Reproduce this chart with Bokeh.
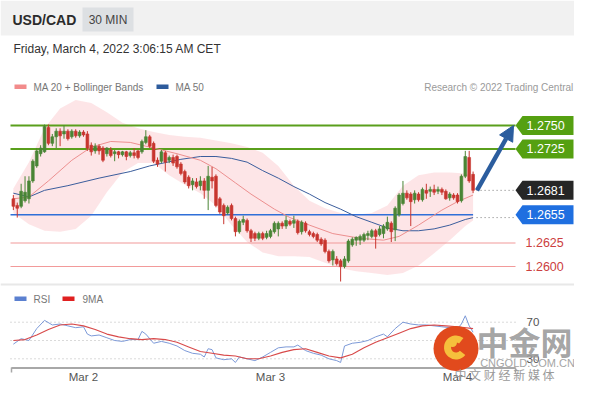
import numpy as np
import pandas as pd
from bokeh.plotting import figure
from bokeh.models import Range1d, Arrow, NormalHead
from bokeh.core.properties import value
from bokeh.embed import file_html
from bokeh.resources import INLINE

# ---------------- data ----------------
first_bar = "2022-03-01 15:00"
day_zero = "2022-03-02 00:00"

opens = [1.2672, 1.2665, 1.2664, 1.2670, 1.2672, 1.2691, 1.2707, 1.2720, 1.2722, 1.2748,
         1.2731, 1.2738, 1.2744, 1.2741, 1.2744, 1.2738, 1.2744, 1.2739, 1.2743, 1.2741,
         1.2729, 1.2723, 1.2728, 1.2726, 1.2720, 1.2724, 1.2720, 1.2722, 1.2719, 1.2722,
         1.2718, 1.2721, 1.2723, 1.2722, 1.2732, 1.2738, 1.2731, 1.2713, 1.2712, 1.2721,
         1.2713, 1.2716, 1.2717, 1.2709, 1.2701, 1.2695, 1.2687, 1.2690, 1.2686, 1.2691,
         1.2681, 1.2695, 1.2696, 1.2672, 1.2665, 1.2657, 1.2665, 1.2651, 1.2637, 1.2647,
         1.2649, 1.2638, 1.2635, 1.2630, 1.2635, 1.2631, 1.2632, 1.2637, 1.2640, 1.2646,
         1.2643, 1.2648, 1.2646, 1.2648, 1.2637, 1.2646, 1.2637, 1.2635, 1.2634, 1.2629,
         1.2628, 1.2616, 1.2607, 1.2608, 1.2606, 1.2600, 1.2606, 1.2623, 1.2628, 1.2628,
         1.2628, 1.2633, 1.2632, 1.2638, 1.2634, 1.2635, 1.2640, 1.2646, 1.2639, 1.2655,
         1.2667, 1.2678, 1.2677, 1.2671, 1.2677, 1.2671, 1.2681, 1.2680, 1.2682, 1.2680,
         1.2682, 1.2680, 1.2673, 1.2676, 1.2676, 1.2670, 1.2696, 1.2716, 1.2698]
highs = [1.2676, 1.2668, 1.2688, 1.2696, 1.2696, 1.2714, 1.2726, 1.2729, 1.2751, 1.2751,
         1.2741, 1.2747, 1.2747, 1.2750, 1.2746, 1.2746, 1.2746, 1.2745, 1.2745, 1.2744,
         1.2732, 1.2731, 1.2730, 1.2728, 1.2727, 1.2727, 1.2724, 1.2723, 1.2723, 1.2723,
         1.2723, 1.2726, 1.2724, 1.2735, 1.2745, 1.2740, 1.2733, 1.2716, 1.2724, 1.2723,
         1.2718, 1.2719, 1.2719, 1.2711, 1.2703, 1.2697, 1.2694, 1.2694, 1.2696, 1.2694,
         1.2707, 1.2706, 1.2698, 1.2674, 1.2667, 1.2665, 1.2667, 1.2653, 1.2650, 1.2654,
         1.2651, 1.2640, 1.2637, 1.2637, 1.2637, 1.2638, 1.2640, 1.2648, 1.2648, 1.2648,
         1.2654, 1.2650, 1.2654, 1.2650, 1.2649, 1.2648, 1.2639, 1.2637, 1.2636, 1.2631,
         1.2630, 1.2618, 1.2618, 1.2611, 1.2608, 1.2611, 1.2629, 1.2631, 1.2632, 1.2634,
         1.2636, 1.2638, 1.2640, 1.2640, 1.2643, 1.2645, 1.2653, 1.2648, 1.2664, 1.2678,
         1.2691, 1.2681, 1.2679, 1.2681, 1.2679, 1.2684, 1.2688, 1.2685, 1.2687, 1.2685,
         1.2684, 1.2682, 1.2679, 1.2678, 1.2678, 1.2698, 1.2723, 1.2723, 1.2701]
lows = [1.2660, 1.2652, 1.2662, 1.2668, 1.2667, 1.2689, 1.2705, 1.2717, 1.2721, 1.2729,
        1.2728, 1.2726, 1.2728, 1.2736, 1.2734, 1.2736, 1.2737, 1.2737, 1.2738, 1.2723,
        1.2718, 1.2720, 1.2719, 1.2711, 1.2717, 1.2716, 1.2712, 1.2715, 1.2717, 1.2713,
        1.2716, 1.2715, 1.2714, 1.2720, 1.2730, 1.2726, 1.2710, 1.2706, 1.2710, 1.2701,
        1.2710, 1.2707, 1.2704, 1.2697, 1.2688, 1.2683, 1.2681, 1.2683, 1.2681, 1.2672,
        1.2660, 1.2683, 1.2663, 1.2656, 1.2645, 1.2655, 1.2649, 1.2632, 1.2635, 1.2644,
        1.2636, 1.2626, 1.2627, 1.2628, 1.2628, 1.2629, 1.2630, 1.2635, 1.2632, 1.2640,
        1.2640, 1.2643, 1.2641, 1.2634, 1.2634, 1.2636, 1.2632, 1.2630, 1.2626, 1.2622,
        1.2614, 1.2604, 1.2601, 1.2601, 1.2584, 1.2598, 1.2604, 1.2621, 1.2622, 1.2623,
        1.2626, 1.2628, 1.2630, 1.2619, 1.2632, 1.2630, 1.2638, 1.2626, 1.2627, 1.2653,
        1.2665, 1.2671, 1.2643, 1.2667, 1.2669, 1.2669, 1.2672, 1.2674, 1.2676, 1.2677,
        1.2676, 1.2671, 1.2670, 1.2671, 1.2667, 1.2668, 1.2694, 1.2689, 1.2678]
closes = [1.2664, 1.2662, 1.2680, 1.2679, 1.2691, 1.2712, 1.2723, 1.2726, 1.2749, 1.2731,
          1.2738, 1.2744, 1.2739, 1.2744, 1.2736, 1.2744, 1.2739, 1.2743, 1.2740, 1.2726,
          1.2722, 1.2728, 1.2723, 1.2713, 1.2726, 1.2718, 1.2722, 1.2719, 1.2722, 1.2717,
          1.2721, 1.2718, 1.2716, 1.2733, 1.2738, 1.2728, 1.2712, 1.2709, 1.2722, 1.2711,
          1.2716, 1.2710, 1.2706, 1.2699, 1.2690, 1.2686, 1.2691, 1.2685, 1.2691, 1.2681,
          1.2696, 1.2691, 1.2665, 1.2658, 1.2654, 1.2663, 1.2651, 1.2637, 1.2648, 1.2650,
          1.2638, 1.2630, 1.2630, 1.2635, 1.2630, 1.2635, 1.2638, 1.2646, 1.2646, 1.2643,
          1.2649, 1.2645, 1.2649, 1.2636, 1.2647, 1.2638, 1.2634, 1.2632, 1.2628, 1.2624,
          1.2616, 1.2606, 1.2616, 1.2603, 1.2600, 1.2608, 1.2627, 1.2629, 1.2631, 1.2632,
          1.2634, 1.2635, 1.2638, 1.2632, 1.2640, 1.2643, 1.2647, 1.2637, 1.2662, 1.2676,
          1.2678, 1.2673, 1.2669, 1.2678, 1.2671, 1.2682, 1.2678, 1.2682, 1.2679, 1.2682,
          1.2679, 1.2672, 1.2677, 1.2673, 1.2669, 1.2696, 1.2717, 1.2691, 1.2681]

ma20_idx = [0, 4, 9, 15, 20, 25, 30, 35, 42, 48, 52, 57, 61, 67, 71, 76, 82, 89, 95, 99, 104, 110, 114, 118]
ma20 = [1.2672, 1.2674, 1.2691, 1.2713, 1.2727, 1.2733, 1.2732, 1.2727, 1.2720, 1.2713, 1.2704, 1.2689,
        1.2677, 1.2661, 1.2652, 1.2644, 1.2635, 1.2630, 1.2628, 1.2632, 1.2644, 1.2660, 1.2669, 1.2676]

ma50_idx = [0, 4, 8, 14, 22, 30, 35, 43, 48, 52, 56, 60, 64, 68, 72, 76, 80, 84, 88, 92, 96, 100,
            104, 108, 112, 116, 118]
ma50 = [1.2678, 1.2674, 1.2681, 1.2686, 1.2694, 1.2701, 1.2707, 1.2714, 1.2717, 1.2717, 1.2715, 1.2711,
        1.2702, 1.2694, 1.2685, 1.2677, 1.2668, 1.2661, 1.2653, 1.2647, 1.2641, 1.2638, 1.2638, 1.2640,
        1.2644, 1.2650, 1.2652]

bb_idx = [0, 4, 8, 12, 16, 20, 24, 28, 32, 36, 40, 44, 48, 52, 56, 60, 64, 68, 72, 76, 80, 84, 88,
          92, 96, 100, 104, 108, 112, 116, 118]
bb_upper = [1.2683, 1.2711, 1.2747, 1.2768, 1.2777, 1.2774, 1.2764, 1.2753, 1.2747, 1.2743, 1.2740,
            1.2738, 1.2737, 1.2734, 1.2731, 1.2727, 1.2721, 1.2707, 1.2686, 1.2670, 1.2662, 1.2657,
            1.2655, 1.2657, 1.2665, 1.2686, 1.2697, 1.2700, 1.2700, 1.2699, 1.2696]
bb_lower = [1.2657, 1.2645, 1.2638, 1.2637, 1.2640, 1.2654, 1.2679, 1.2700, 1.2710, 1.2710, 1.2697,
            1.2687, 1.2678, 1.2665, 1.2644, 1.2626, 1.2615, 1.2611, 1.2611, 1.2610, 1.2604, 1.2598,
            1.2595, 1.2593, 1.2591, 1.2593, 1.2601, 1.2614, 1.2628, 1.2643, 1.2649]

rsi_idx = [0, 2, 4, 6, 8, 10, 12, 14, 16, 18, 19, 20, 22, 24, 26, 28, 30, 32, 33, 34,
           36, 38, 40, 42, 44, 46, 48, 49, 50, 51, 52, 54, 56, 57, 58, 60, 62, 64, 66, 68,
           70, 72, 73, 75, 77, 79, 81, 83, 84, 85, 87, 89, 91, 93, 95, 96, 98, 100, 102, 104,
           106, 108, 110, 112, 114, 115, 116, 117, 118]
rsi = [46, 52, 50, 63, 72, 67, 68, 66, 64, 65, 57, 55, 56, 53, 50, 49, 51, 51, 60, 57,
       47, 49, 47, 44, 39, 36, 35, 32, 41, 40, 31, 29, 30, 26, 32, 30, 28, 32, 37, 42,
       43, 43, 45, 39, 36, 34, 30, 28, 26, 44, 47, 48, 50, 54, 57, 54, 63, 70, 68, 67,
       67, 66, 65, 64, 63, 68, 77, 66, 59]

ma9_idx = [0, 3, 6, 9, 12, 15, 18, 21, 24, 27, 30, 33, 36, 39, 42, 45, 48, 51, 54, 57,
           60, 63, 66, 69, 72, 75, 78, 81, 84, 87, 90, 93, 96, 99, 102, 105, 108, 111, 114, 118]
ma9 = [50, 51, 56, 62, 67, 68, 66, 62, 57, 54, 52, 51, 52, 51, 48, 43, 38, 36, 34, 33,
       30, 30, 33, 37, 40, 41, 37, 33, 31, 35, 42, 48, 53, 58, 63, 66, 67, 66, 65, 63]

resistances = [1.2750, 1.2725]
pivot = 1.2655
supports = [1.2625, 1.2600]
rsi_levels = [70, 50, 30]
rsi_labels = ["70", "30"]

tick_days = ["2022-03-02", "2022-03-03", "2022-03-04"]
tick_labels = ["Mar 2", "Mar 3", "Mar 4"]

# ---------------- derived positions ----------------
times = pd.date_range(first_bar, periods=len(opens), freq="30min")
half = pd.Timedelta("30min")
t = np.asarray((times - pd.Timestamp(day_zero)) / half, dtype=float)
tick_t = [float((pd.Timestamp(d) - pd.Timestamp(day_zero)) / half) for d in tick_days]

O = np.array(opens); Hh = np.array(highs); L = np.array(lows); C = np.array(closes)
up = C >= O
GREEN, RED = "#4a8535", "#c8352f"
colors = [GREEN if u else RED for u in up]

W, H = 574, 384
X0, X1 = -21.30, 126.03
Y0, Y1 = 1.2474424, 1.2883
ppx = (X1 - X0) / W
ppy = (Y1 - Y0) / H


def tx(px):
    return X0 + px * ppx


FONT = value("Liberation Sans")
PX = dict(x_range_name="px", y_range_name="px")

p = figure(width=W, height=H, output_backend="svg", toolbar_location=None,
           x_range=Range1d(X0, X1), y_range=Range1d(Y0, Y1),
           x_axis_location=None, y_axis_location=None, min_border=0,
           outline_line_color=None, background_fill_color="white", border_fill_color="white")
p.grid.visible = False
p.extra_y_ranges = {"rsi": Range1d(1.91, 421.6), "px": Range1d(H, 0)}
p.extra_x_ranges = {"px": Range1d(0, W)}

# header band
p.quad(left=[0], right=[W], top=[0], bottom=[35], fill_color="#f1f1f1", line_color=None, **PX)
p.quad(left=[82], right=[133], top=[7], bottom=[31], fill_color="#dde0e3", line_color=None, **PX)
# divider
p.segment(x0=[0], x1=[W], y0=[284], y1=[284], line_color="#e8e8e8", line_width=2, **PX)

# Bollinger band
bb_t = t[bb_idx]
p.varea(x=bb_t, y1=bb_lower, y2=bb_upper, fill_color="#f7a9b0", fill_alpha=0.3)

left = tx(10)
lab_x = tx(515)
right = tx(573)
t_end = t[-1]

# level lines
for lv in resistances:
    p.segment(x0=[left], x1=[lab_x], y0=[lv], y1=[lv], line_color="#5a9f1c", line_width=2)
for lv in supports:
    p.segment(x0=[left], x1=[lab_x], y0=[lv], y1=[lv], line_color="#f29a9a", line_width=1.2)
p.segment(x0=[left], x1=[t_end], y0=[pivot], y1=[pivot], line_color="#2f6fd8", line_width=1.5)
p.segment(x0=[t_end + 0.9, t_end + 0.9], x1=[lab_x, lab_x], y0=[closes[-1], ma50[-1]],
          y1=[closes[-1], ma50[-1]], line_color="#777777", line_width=1, line_dash="1 3")

# moving averages
p.line(t[ma50_idx], ma50, line_color="#3b5d9c", line_width=1)
p.line(t[ma20_idx], ma20, line_color="#ec8f8f", line_width=1)

# candles
p.segment(x0=t, x1=t, y0=L, y1=Hh, line_color=colors, line_width=1)
p.vbar(x=t, width=0.72, top=np.maximum(O, C), bottom=np.minimum(O, C),
       fill_color=colors, line_color=colors, line_width=0.6)

# level tags
hh = 9.5 * ppy
tip = 7 * ppx
tag_levels = [resistances[0], resistances[1], closes[-1], pivot]
tag_colors = ["#55a011", "#55a011", "#262626", "#1f6fe0"]
xs = [[lab_x, lab_x + tip, right, right, lab_x + tip] for _ in tag_levels]
ys = [[lv, lv + hh, lv + hh, lv - hh, lv - hh] for lv in tag_levels]
p.patches(xs, ys, fill_color=tag_colors, line_color=None)
p.text(x=[lab_x + 11 * ppx] * 4, y=tag_levels, text=[f"{v:.4f}" for v in tag_levels],
       text_color="white", text_font=FONT, text_font_size="12.5px", text_baseline="middle")
p.text(x=[tx(525)] * 2, y=supports, text=[f"{v:.4f}" for v in supports],
       text_color="#cc4040", text_font=FONT, text_font_size="12.5px", text_baseline="middle")

# target arrow
AB = "#2b5d9e"
p.add_layout(Arrow(end=NormalHead(size=15, fill_color=AB, line_color=AB, line_width=1),
                   x_start=t_end + 1.0, y_start=closes[-1], x_end=tx(513), y_end=resistances[0],
                   line_color=AB, line_width=4.5))

# RSI panel
for lv in rsi_levels:
    p.segment(x0=[left], x1=[lab_x], y0=[lv], y1=[lv], line_color="#b5b5b5", line_width=1,
              line_dash="1 3", y_range_name="rsi")
p.line(t[rsi_idx], rsi, line_color="#7d9ad8", line_width=1, y_range_name="rsi")
p.line(t[ma9_idx], ma9, line_color="#d84a4a", line_width=1.1, y_range_name="rsi")
p.text(x=[tx(526)] * 2, y=[70, 30], text=rsi_labels, text_color="#555555", text_font=FONT,
       text_font_size="11.5px", text_baseline="middle", y_range_name="rsi")

# time axis
p.segment(x0=[11], x1=[515], y0=[367.5], y1=[367.5], line_color="#a8a8a8", line_width=2, **PX)
p.segment(x0=[11, 515], x1=[11, 515], y0=[367, 367], y1=[372, 372], line_color="#a8a8a8",
          line_width=1.5, **PX)
p.text(x=tick_t, y=[376.5] * 3, text=tick_labels, text_color="#555555", text_font=FONT,
       text_font_size="11.5px", text_align="center", text_baseline="middle", y_range_name="px")

# header texts
p.text(x=[12], y=[19.5], text=["USD/CAD"], text_color="#2b2b2b", text_font=FONT,
       text_font_size="14px", text_font_style="bold", text_baseline="middle", **PX)
p.text(x=[107.5], y=[19.5], text=["30 MIN"], text_color="#444444", text_font=FONT,
       text_font_size="12px", text_align="center", text_baseline="middle", **PX)
p.text(x=[13], y=[48.5], text=["Friday, March 4, 2022 3:06:15 AM CET"], text_color="#333333",
       text_font=FONT, text_font_size="12px", text_baseline="middle", **PX)

# legends
p.quad(left=[14, 156, 14, 62], right=[26, 168, 26, 74], top=[84, 84, 296, 296],
       bottom=[88.5, 88.5, 300.5, 300.5],
       fill_color=["#f28b8b", "#2d5b9c", "#5b80d0", "#e02020"], line_color=None, **PX)
p.text(x=[33, 175, 33, 82], y=[86.5, 86.5, 298.5, 298.5],
       text=["MA 20 + Bollinger Bands", "MA 50", "RSI", "9MA"], text_color="#777777",
       text_font=FONT, text_font_size="10px", text_baseline="middle", **PX)
p.text(x=[573], y=[86.5], text=["Research \u00a9 2022 Trading Central"], text_color="#9a9a9a",
       text_font=FONT, text_font_size="10px", text_align="right", text_baseline="middle", **PX)

# watermark
p.circle(x=[455.5], y=[348], radius=22.5, fill_color="#e14a1d", line_color=None, **PX)
p.annular_wedge(x=[455.5], y=[347], inner_radius=5, outer_radius=12, start_angle=0.9,
                end_angle=5.6, fill_color="#f6c03c", line_color=None, **PX)
p.circle(x=[452], y=[342], radius=4.5, fill_color="#f6c03c", line_color=None, **PX)
p.text(x=[524], y=[340], text=["中金网"], text_color="#9a9a9a", text_alpha=0.9,
       text_font=value("Noto Sans CJK SC"), text_font_size="32px", text_font_style="bold",
       text_align="center", text_baseline="middle", **PX)
p.text(x=[527], y=[362], text=["CNGOLD.COM.CN"], text_color="#a5a5a5",
       text_font=FONT, text_font_size="11px", text_align="center", text_baseline="middle", **PX)
p.text(x=[504], y=[373.5], text=["中 文 财 经 新 媒 体"], text_color="#9a9a9a",
       text_font=value("Noto Sans CJK SC"), text_font_size="12px", text_align="center",
       text_baseline="middle", **PX)

open("out.html", "w").write(file_html(p, INLINE))
